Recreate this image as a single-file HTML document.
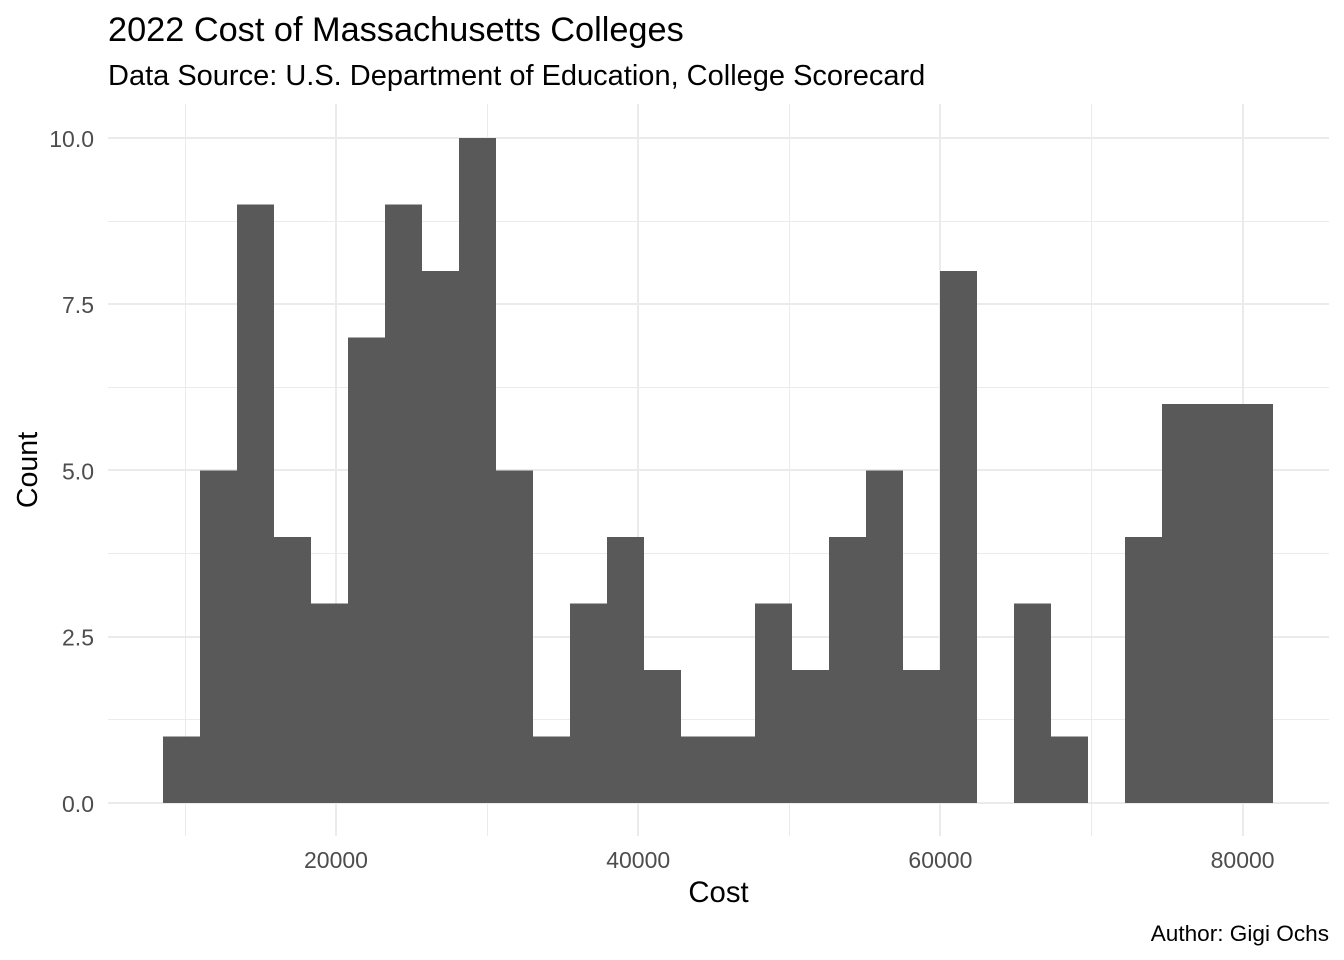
<!DOCTYPE html>
<html lang="en">
<head>
<meta charset="utf-8">
<title>2022 Cost of Massachusetts Colleges</title>
<style>
html,body{margin:0;padding:0;background:#fff;width:1344px;height:960px;overflow:hidden}
svg{display:block}
text{font-family:"Liberation Sans",Arial,sans-serif}
</style>
</head>
<body>
<svg id="chart" xmlns="http://www.w3.org/2000/svg" width="1344" height="960" viewBox="0 0 1344 960">
  <rect x="0" y="0" width="1344" height="960" fill="#ffffff"/>
  <g id="grid"></g>
  <g id="bars"></g>
  <g id="xticks"></g>
  <g id="yticks"></g>
  <text x="108" y="41" font-size="34.3" fill="#000000">2022 Cost of Massachusetts Colleges</text>
  <text x="108" y="85" font-size="29" fill="#000000">Data Source: U.S. Department of Education, College Scorecard</text>
  <text x="718.5" y="902" font-size="29.3" text-anchor="middle" fill="#000000">Cost</text>
  <text transform="translate(37 470) rotate(-90)" font-size="28.6" text-anchor="middle" fill="#000000">Count</text>
  <text x="1329" y="941" font-size="22.6" text-anchor="end" fill="#000000">Author: Gigi Ochs</text>
</svg>
<script>
const binCounts = [1,5,9,4,3,7,9,8,10,5,1,3,4,2,1,1,3,2,4,5,2,8,0,3,1,0,4,6,6,6];
const binStart = 8551;
const binWidth = 2448.7;
const xMajorTicks = [20000,40000,60000,80000];
const xMinorTicks = [10000,30000,50000,70000];
const yMajorTicks = [0,2.5,5,7.5,10];
const yMinorTicks = [1.25,3.75,6.25,8.75];

const NS = 'http://www.w3.org/2000/svg';
const panel = {left:108, right:1329, top:104, bottom:836};
function xScale(v){ return 336 + (v - 20000) * (906.6 / 60000); }
function yScale(v){ return 802.8 - v * 66.5; }

function makeLine(x1,y1,x2,y2,w){
  const l = document.createElementNS(NS,'line');
  l.setAttribute('x1',x1);
  l.setAttribute('y1',y1);
  l.setAttribute('x2',x2);
  l.setAttribute('y2',y2);
  l.setAttribute('stroke','#ebebeb');
  l.setAttribute('stroke-width',w);
  return l;
}
function snapMinor(p){ return Math.round(p - 0.25) + 0.5; }

const grid = document.getElementById('grid');
xMinorTicks.forEach(function(t){
  const p = snapMinor(xScale(t));
  const l = makeLine(p,panel.top,p,panel.bottom,1);
  
  
  grid.appendChild(l);
});
yMinorTicks.forEach(function(t){
  const p = snapMinor(yScale(t));
  const l = makeLine(panel.left,p,panel.right,p,1);
  
  
  grid.appendChild(l);
});
xMajorTicks.forEach(function(t){
  const p = Math.round(xScale(t));
  const l = makeLine(p,panel.top,p,panel.bottom,2);
  
  
  grid.appendChild(l);
});
yMajorTicks.forEach(function(t){
  const p = Math.round(yScale(t));
  const l = makeLine(panel.left,p,panel.right,p,2);
  
  
  grid.appendChild(l);
});

const bars = document.getElementById('bars');
binCounts.forEach(function(c,i){
  if(c === 0) return;
  const x0 = xScale(binStart + i * binWidth);
  const x1 = xScale(binStart + (i + 1) * binWidth);
  const r = document.createElementNS(NS,'rect');
  r.setAttribute('x',x0);
  r.setAttribute('y',yScale(c));
  r.setAttribute('width',x1 - x0);
  r.setAttribute('height',yScale(0) - yScale(c));
  r.setAttribute('fill','#595959');
  r.setAttribute('shape-rendering','crispEdges');
  
  
  bars.appendChild(r);
});

const xt = document.getElementById('xticks');
xMajorTicks.forEach(function(t){
  const e = document.createElementNS(NS,'text');
  e.setAttribute('x',xScale(t));
  e.setAttribute('y',868);
  e.setAttribute('font-size','23');
  e.setAttribute('text-anchor','middle');
  e.setAttribute('fill','#4d4d4d');
  
  
  e.textContent = String(t);
  xt.appendChild(e);
});

const yt = document.getElementById('yticks');
yMajorTicks.forEach(function(t){
  const e = document.createElementNS(NS,'text');
  e.setAttribute('x',94);
  e.setAttribute('y',yScale(t) + 9);
  e.setAttribute('font-size','23');
  e.setAttribute('text-anchor','end');
  e.setAttribute('fill','#4d4d4d');
  
  
  e.textContent = t.toFixed(1);
  yt.appendChild(e);
});
</script>
</body>
</html>
